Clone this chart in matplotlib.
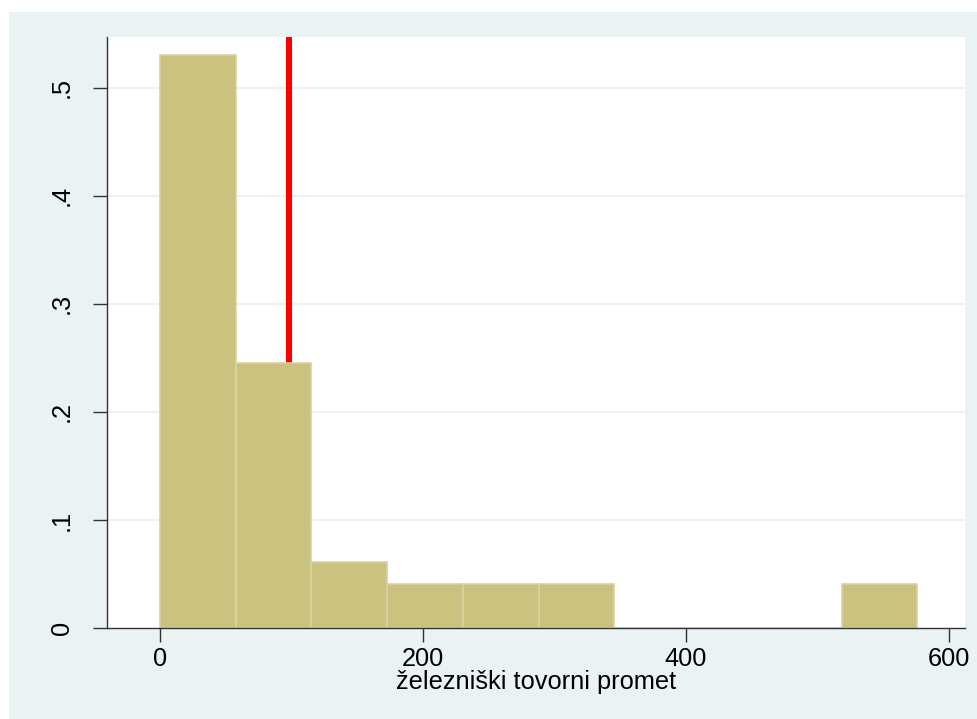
import numpy as np
import matplotlib
matplotlib.use("Agg")
import matplotlib.pyplot as plt
from matplotlib.patches import Rectangle

plt.rcParams['font.family'] = ['Liberation Sans', 'DejaVu Sans']

# histogram data (fraction of 49 observations)
bin_width = 57.6
bin_starts = [0, 57.6, 115.2, 172.8, 230.4, 288.0, 345.6, 403.2, 460.8, 518.4]
fractions = [26/49, 12/49, 3/49, 2/49, 2/49, 2/49, 0, 0, 0, 2/49]
mean_value = 98.0

x_ticks = [0, 200, 400, 600]
y_ticks = [0, 0.1, 0.2, 0.3, 0.4, 0.5]
y_labels = ["0", ".1", ".2", ".3", ".4", ".5"]
xlabel = "železniški tovorni promet"

bg = "#EAF2F3"
W, H = 977, 719
fig = plt.figure(figsize=(W / 100, H / 100), dpi=100, facecolor="white")

# outer graph region
fig.patches.append(Rectangle((9 / W, 0), 1 - 9 / W, 1 - 12 / H,
                             transform=fig.transFigure, facecolor=bg,
                             edgecolor="none", zorder=-10))

ax = fig.add_axes([107 / W, (H - 628) / H, (965 - 107) / W, (628 - 37) / H])
ax.set_facecolor("white")

for y in y_ticks[1:]:
    ax.axhline(y, color=bg, lw=1.5, zorder=0)

ax.axvline(mean_value, color="red", lw=4.4, zorder=1)

ax.bar(bin_starts, fractions, width=bin_width, align="edge",
       color="#CAC27E", edgecolor="#D8D3A0", linewidth=1.2, zorder=2)

ax.set_xlim(-40.3, 612.3)
ax.set_ylim(0, 0.547)

for s in ["top", "right"]:
    ax.spines[s].set_visible(False)
for s in ["left", "bottom"]:
    ax.spines[s].set_color("#333333")
    ax.spines[s].set_linewidth(1.0)

ax.set_xticks(x_ticks)
ax.set_xticklabels([str(t) for t in x_ticks])
ax.set_yticks(y_ticks)
ax.set_yticklabels(y_labels, rotation=90, va="center")
ax.tick_params(axis="both", length=10, width=1.0, color="#333333",
               labelsize=18.3, labelcolor="black")
ax.tick_params(axis="x", pad=4)
ax.tick_params(axis="y", pad=14)

ax.set_xlabel(xlabel, fontsize=18.3, labelpad=-1)

fig.savefig("out.png", dpi=100, facecolor="white")
